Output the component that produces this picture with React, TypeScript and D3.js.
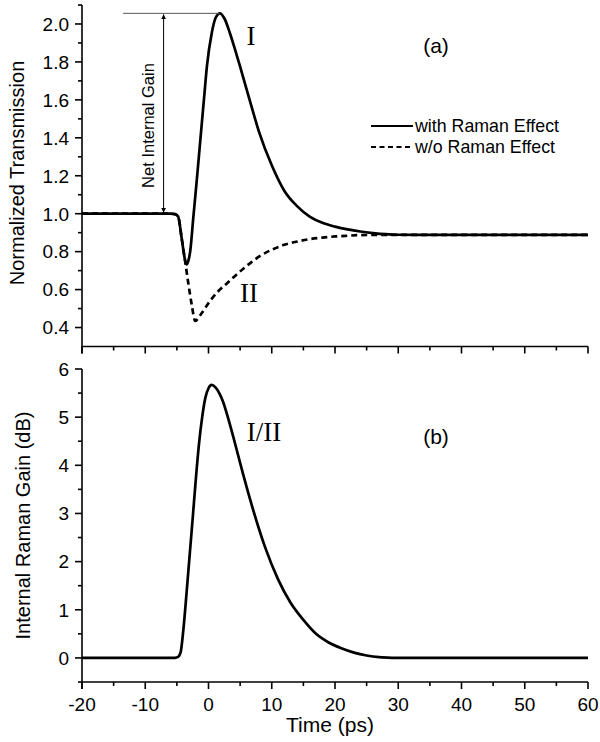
import React from "react";
import * as d3 from "d3";

// ---------- data ----------
const tWith = [-20, -6, -5.3, -4.8, -4.24, -3.7, -3.45, -3.2, -2.9, -2.4, -1.87, -1.34, -0.7, -0.24, 0.5, 1.1, 1.8, 2.5, 3.4, 4.2, 5.0, 6.5, 8, 10, 12, 14, 16, 18, 20, 22, 24, 26, 28, 30, 35, 60];
const withRaman = [1.0, 1.0, 0.998, 0.985, 0.87, 0.755, 0.733, 0.75, 0.8, 0.98, 1.17, 1.37, 1.61, 1.78, 1.95, 2.03, 2.056, 2.03, 1.95, 1.865, 1.775, 1.6, 1.43, 1.255, 1.12, 1.04, 0.985, 0.952, 0.932, 0.917, 0.906, 0.898, 0.892, 0.889, 0.888, 0.888];

const tWithout = [-20, -6, -5.3, -4.8, -4.24, -3.7, -3.2, -2.65, -2.1, -1.2, 0.24, 1.5, 2.9, 4.2, 5.5, 6.8, 8.1, 10, 12, 14, 16, 18, 20, 22, 24, 27, 60];
const withoutRaman = [1.0, 1.0, 0.998, 0.985, 0.87, 0.75, 0.635, 0.52, 0.435, 0.47, 0.54, 0.59, 0.632, 0.672, 0.71, 0.745, 0.776, 0.81, 0.836, 0.853, 0.866, 0.874, 0.88, 0.884, 0.887, 0.888, 0.888];

const tGain = [-20, -5.3, -4.8, -4.4, -4.0, -3.5, -3.0, -2.5, -2.0, -1.5, -1.0, -0.5, 0, 0.5, 1.1, 1.7, 2.3, 3.1, 3.9, 4.7, 5.5, 7, 9, 11, 13, 15, 17, 19, 21, 23, 25, 27, 29, 31, 60];
const gainDb = [0, 0, 0.02, 0.12, 0.55, 1.3, 2.1, 2.9, 3.72, 4.45, 5.0, 5.4, 5.6, 5.67, 5.62, 5.5, 5.32, 4.98, 4.6, 4.2, 3.8, 3.1, 2.28, 1.63, 1.14, 0.79, 0.5, 0.32, 0.2, 0.11, 0.05, 0.015, 0.003, 0, 0];

const xTicks = [-20, -10, 0, 10, 20, 30, 40, 50, 60];
const xMinorTicks = [-15, -5, 5, 15, 25, 35, 45, 55];
const yTicksA = [0.4, 0.6, 0.8, 1.0, 1.2, 1.4, 1.6, 1.8, 2.0];
const yMinorA = [0.5, 0.7, 0.9, 1.1, 1.3, 1.5, 1.7, 1.9, 2.1];
const yTicksB = [0, 1, 2, 3, 4, 5, 6];
const yMinorB = [-0.5, 0.5, 1.5, 2.5, 3.5, 4.5, 5.5];

const legendLabels = ["with Raman Effect", "w/o Raman Effect"];
const annotationBaseline = 1.0;
const annotationArrowT = -7.1;
const annotationLineStartT = -13.5;

const SANS = "'Liberation Sans', Arial, Helvetica, sans-serif";
const SERIF = "'Liberation Serif', 'Times New Roman', serif";

export default function App() {
  const W = 600, H = 742;
  const x = d3.scaleLinear().domain([-20, 60]).range([82, 588]);
  const yA = d3.scaleLinear().domain([0.3, 2.1]).range([346.5, 5]);
  const yB = d3.scaleLinear().domain([-0.5, 6]).range([682, 369]);

  const lineA = d3.line<[number, number]>().x(d => x(d[0])).y(d => yA(d[1])).curve(d3.curveMonotoneX);
  const lineB = d3.line<[number, number]>().x(d => x(d[0])).y(d => yB(d[1])).curve(d3.curveMonotoneX);

  const withPts = tWith.map((t, i) => [t, withRaman[i]] as [number, number]);
  const woPts = tWithout.map((t, i) => [t, withoutRaman[i]] as [number, number]);
  const gainPts = tGain.map((t, i) => [t, gainDb[i]] as [number, number]);

  const peakVal = d3.max(withRaman) as number;
  const peakIdx = withRaman.indexOf(peakVal);
  const peakT = tWith[peakIdx];

  const axisW = 1.6;
  const curveW = 2.7;
  const tickFont = 19;

  const yAxisA0 = yA.range()[0];
  const yAxisB0 = yB.range()[0];
  const x0 = x.range()[0];

  const ax = x(annotationArrowT);
  const yTop = yA(peakVal);
  const yBase = yA(annotationBaseline);

  return (
    <svg width={W} height={H} style={{ position: "absolute", left: 0, top: 0, background: "#fff" }} fontFamily={SANS}>
      <rect x={0} y={0} width={W} height={H} fill="#fff" />
      <defs>
        <marker id="arr" viewBox="0 0 10 10" refX="10" refY="5" markerWidth="5" markerHeight="7" orient="auto-start-reverse" markerUnits="userSpaceOnUse">
          <path d="M0,0 L10,5 L0,10 z" fill="#000" />
        </marker>
      </defs>

      {/* ---------- Panel (a) ---------- */}
      <g>
        <line x1={x0} x2={x0} y1={yA.range()[1]} y2={yAxisA0 + 7} stroke="#000" strokeWidth={axisW} />
        <line x1={x0} x2={x.range()[1]} y1={yAxisA0} y2={yAxisA0} stroke="#000" strokeWidth={axisW} />
        {xTicks.map(t => (
          <line key={"xa" + t} x1={x(t)} x2={x(t)} y1={yAxisA0} y2={yAxisA0 + 7} stroke="#000" strokeWidth={axisW} />
        ))}
        {xMinorTicks.map(t => (
          <line key={"xam" + t} x1={x(t)} x2={x(t)} y1={yAxisA0} y2={yAxisA0 + 4} stroke="#000" strokeWidth={axisW} />
        ))}
        {yTicksA.map(v => (
          <g key={"ya" + v}>
            <line x1={x0 - 7} x2={x0} y1={yA(v)} y2={yA(v)} stroke="#000" strokeWidth={axisW} />
            <text x={x0 - 13} y={yA(v)} dy="0.36em" textAnchor="end" fontSize={tickFont}>{v.toFixed(1)}</text>
          </g>
        ))}
        {yMinorA.map(v => (
          <line key={"yam" + v} x1={x0 - 4} x2={x0} y1={yA(v)} y2={yA(v)} stroke="#000" strokeWidth={axisW} />
        ))}
        <text transform={`translate(17,${(yA(0.35) + yA(2.1)) / 2 + 2}) rotate(-90)`} dy="0.36em" textAnchor="middle" fontSize={20}>Normalized Transmission</text>

        <path d={lineA(woPts) || ""} fill="none" stroke="#000" strokeWidth={curveW} strokeDasharray="6,4" />
        <path d={lineA(withPts) || ""} fill="none" stroke="#000" strokeWidth={curveW} />

        <line x1={x(annotationLineStartT)} x2={x(peakT)} y1={yTop} y2={yTop} stroke="#555" strokeWidth={1} />
        <line x1={ax} x2={ax} y1={yTop + 1} y2={yBase - 1} stroke="#000" strokeWidth={1} markerStart="url(#arr)" markerEnd="url(#arr)" />
        <text transform={`translate(${ax - 16},${(yTop + yBase) / 2 + 12}) rotate(-90)`} dy="0.36em" textAnchor="middle" fontSize={16.5}>Net Internal Gain</text>

        <text x={251} y={36} dy="0.35em" textAnchor="middle" fontFamily={SERIF} fontSize={27}>I</text>
        <text x={249} y={293} dy="0.35em" textAnchor="middle" fontFamily={SERIF} fontSize={27}>II</text>
        <text x={436} y={45} dy="0.36em" textAnchor="middle" fontSize={21}>(a)</text>

        <line x1={371} x2={413} y1={126} y2={126} stroke="#000" strokeWidth={2} />
        <text x={415} y={126} dy="0.36em" fontSize={17.8}>{legendLabels[0]}</text>
        <line x1={371} x2={413} y1={147} y2={147} stroke="#000" strokeWidth={2} strokeDasharray="5,3.5" />
        <text x={415} y={147} dy="0.36em" fontSize={17.8}>{legendLabels[1]}</text>
      </g>

      {/* ---------- Panel (b) ---------- */}
      <g>
        <line x1={x0} x2={x0} y1={yB.range()[1]} y2={yAxisB0 + 7} stroke="#000" strokeWidth={axisW} />
        <line x1={x0} x2={x.range()[1]} y1={yAxisB0} y2={yAxisB0} stroke="#000" strokeWidth={axisW} />
        {xTicks.map(t => (
          <g key={"xb" + t}>
            <line x1={x(t)} x2={x(t)} y1={yAxisB0} y2={yAxisB0 + 7} stroke="#000" strokeWidth={axisW} />
            <text x={x(t)} y={yAxisB0 + 29} textAnchor="middle" fontSize={tickFont}>{t}</text>
          </g>
        ))}
        {xMinorTicks.map(t => (
          <line key={"xbm" + t} x1={x(t)} x2={x(t)} y1={yAxisB0} y2={yAxisB0 + 4} stroke="#000" strokeWidth={axisW} />
        ))}
        {yTicksB.map(v => (
          <g key={"yb" + v}>
            <line x1={x0 - 7} x2={x0} y1={yB(v)} y2={yB(v)} stroke="#000" strokeWidth={axisW} />
            <text x={x0 - 13} y={yB(v)} dy="0.36em" textAnchor="end" fontSize={tickFont}>{v}</text>
          </g>
        ))}
        {yMinorB.map(v => (
          <line key={"ybm" + v} x1={x0 - 4} x2={x0} y1={yB(v)} y2={yB(v)} stroke="#000" strokeWidth={axisW} />
        ))}
        <text transform={`translate(23,${(yB(-0.5) + yB(6)) / 2}) rotate(-90)`} dy="0.36em" textAnchor="middle" fontSize={20}>Internal Raman Gain (dB)</text>
        <text x={330} y={732} textAnchor="middle" fontSize={21}>Time (ps)</text>

        <path d={lineB(gainPts) || ""} fill="none" stroke="#000" strokeWidth={curveW} />

        <text x={264} y={432} dy="0.35em" textAnchor="middle" fontFamily={SERIF} fontSize={27}>I/II</text>
        <text x={436} y={436} dy="0.36em" textAnchor="middle" fontSize={21}>(b)</text>
      </g>
    </svg>
  );
}
